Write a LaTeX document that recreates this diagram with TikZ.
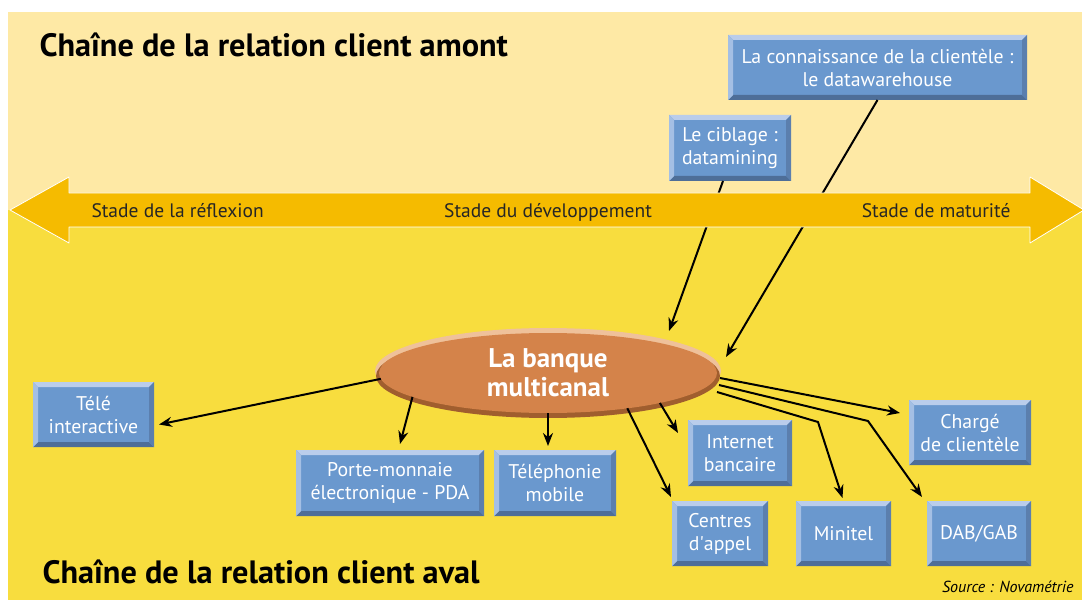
\documentclass[tikz,border=0pt]{standalone}
\usepackage{fontspec}
\setmainfont{PT Sans}
\usetikzlibrary{arrows.meta,shapes.geometric}
\definecolor{paleyel}{HTML}{FEE9A5}
\definecolor{deepyel}{HTML}{F8DD3E}
\definecolor{bandyel}{HTML}{F5BB00}
\definecolor{boxblue}{HTML}{6A98CE}
\definecolor{bevtop}{HTML}{BACDEB}
\definecolor{bevleft}{HTML}{A4BFE4}
\definecolor{bevbot}{HTML}{4E6E98}
\definecolor{bevright}{HTML}{5B7FAE}
\definecolor{bankfill}{HTML}{D4834A}
\definecolor{banklight}{HTML}{EFC19A}
\definecolor{bankdark}{HTML}{A05E2E}
\begin{document}
\begin{tikzpicture}[x=1pt, y=-1pt, line join=round, >={Stealth[length=13pt,width=10pt]},
	chanbox/.style={fill=boxblue, text=white, align=center, inner sep=0pt, outer sep=0pt, font=\fontsize{19.8}{23}\selectfont},
	link/.style={->, line width=2pt},
	stade/.style={font=\fontsize{19.5}{22}\selectfont, text=black!85},
	chain/.style={anchor=base west, font=\bfseries\fontsize{32.3}{36}\selectfont}]
	\useasboundingbox (0,0) rectangle (1082,604);
	\fill[white] (0,0) rectangle (1082,604);
	\fill[paleyel] (8,12) rectangle (1082,210);
	\fill[deepyel] (8,210) rectangle (1082,600);
	\node[chain] (amont) at (36,57) {Chaîne de la relation client amont};
	\node[chain] (aval) at (39,583) {Chaîne de la relation client aval};
	\node[anchor=base east, font=\itshape\fontsize{16}{18}\selectfont] (src) at (1077,592) {Source : Novamétrie};
	\node[chanbox, minimum width=299pt, minimum height=65pt] (dw) at (877.5,67.5) {La connaissance de la clientèle :\\le datawarehouse};
	\node[chanbox, minimum width=122pt, minimum height=66pt] (cib) at (730,148) {Le ciblage :\\datamining};
	\node[chanbox, minimum width=121pt, minimum height=65pt] (tele) at (93.5,414.5) {Télé\\interactive};
	\node[chanbox, minimum width=188pt, minimum height=66pt] (pm) at (390,483) {Porte-monnaie\\électronique - PDA};
	\node[chanbox, minimum width=122pt, minimum height=66pt] (tel) at (555,483) {Téléphonie\\mobile};
	\node[chanbox, minimum width=104pt, minimum height=66pt] (inet) at (740,453) {Internet\\bancaire};
	\node[chanbox, minimum width=122pt, minimum height=65pt] (charge) at (970,432.5) {Chargé\\de clientèle};
	\node[chanbox, minimum width=96pt, minimum height=65pt] (centres) at (720,533.5) {Centres\\d\textquotesingle appel};
	\node[chanbox, minimum width=95pt, minimum height=65pt] (minitel) at (843.5,533.5) {Minitel};
	\node[chanbox, minimum width=104pt, minimum height=65pt] (dab) at (979,533.5) {DAB/GAB};
	\foreach \b in {dw,cib,tele,pm,tel,inet,charge,centres,minitel,dab}{
		\fill[bevtop] (\b.north west) -- (\b.north east) -- ([shift={(-5,5)}]\b.north east) -- ([shift={(5,5)}]\b.north west) -- cycle;
		\fill[bevbot] (\b.south west) -- (\b.south east) -- ([shift={(-5,-5)}]\b.south east) -- ([shift={(5,-5)}]\b.south west) -- cycle;
		\fill[bevleft] (\b.north west) -- ([shift={(5,5)}]\b.north west) -- ([shift={(5,-5)}]\b.south west) -- (\b.south west) -- cycle;
		\fill[bevright] (\b.north east) -- ([shift={(-5,5)}]\b.north east) -- ([shift={(-5,-5)}]\b.south east) -- (\b.south east) -- cycle;
	}
	\fill[banklight] (548,371) ellipse (173pt and 43pt);
	\fill[bankdark] (548,376) ellipse (172pt and 42pt);
	\node[ellipse, fill=bankfill, minimum width=338pt, minimum height=80pt, inner sep=0pt, outer sep=0pt, text=white, align=center, font=\bfseries\fontsize{27}{29}\selectfont] (bank) at (548,373) {La banque\\multicanal};
	\coordinate (cibtip) at (669,331);
	\coordinate (dwtip) at (726,357);
	\draw[link] ([xshift=-7pt]cib.south) -- (cibtip);
	\draw[link] (dw.south) -- (dwtip);
	\draw[fill=bandyel, draw=white, line width=0.8pt] (10,210) -- (69,177) -- (69,193) -- (1030,193) -- (1030,177) -- (1084,210) -- (1030,243) -- (1030,227) -- (69,227) -- (69,243) -- cycle;
	\node[stade, anchor=base west] (reflex) at (88,218) {Stade de la réflexion};
	\node[stade, anchor=base] (devel) at (548,218) {Stade du développement};
	\node[stade, anchor=base east] (matur) at (1014,218) {Stade de maturité};
	\coordinate (minbend) at (818,422);
	\coordinate (dabbend) at (868,421);
	\draw[link] (bank.182) -- ([shift={(5,10)}]tele.east);
	\draw[link] (bank.190) -- ([shift={(10,-6)}]pm.north);
	\draw[link] (bank.south) -- ([yshift=4pt]tel.north -| bank.south);
	\draw[link] (bank.336) -- ([shift={(-1,-4)}]centres.north west);
	\draw[link] (bank.345) -- ([shift={(-10,13)}]inet.north west);
	\draw[link] ([shift={(3,5)}]bank.east) -- ([shift={(-9,13)}]charge.north west);
	\draw[link] ([shift={(2,12)}]bank.east) -- (dabbend) -- ([shift={(-5,-4)}]dab.north west);
	\draw[link] ([shift={(0,19)}]bank.east) -- (minbend) -- ([shift={(-1,-3)}]minitel.north);
\end{tikzpicture}
\end{document}
